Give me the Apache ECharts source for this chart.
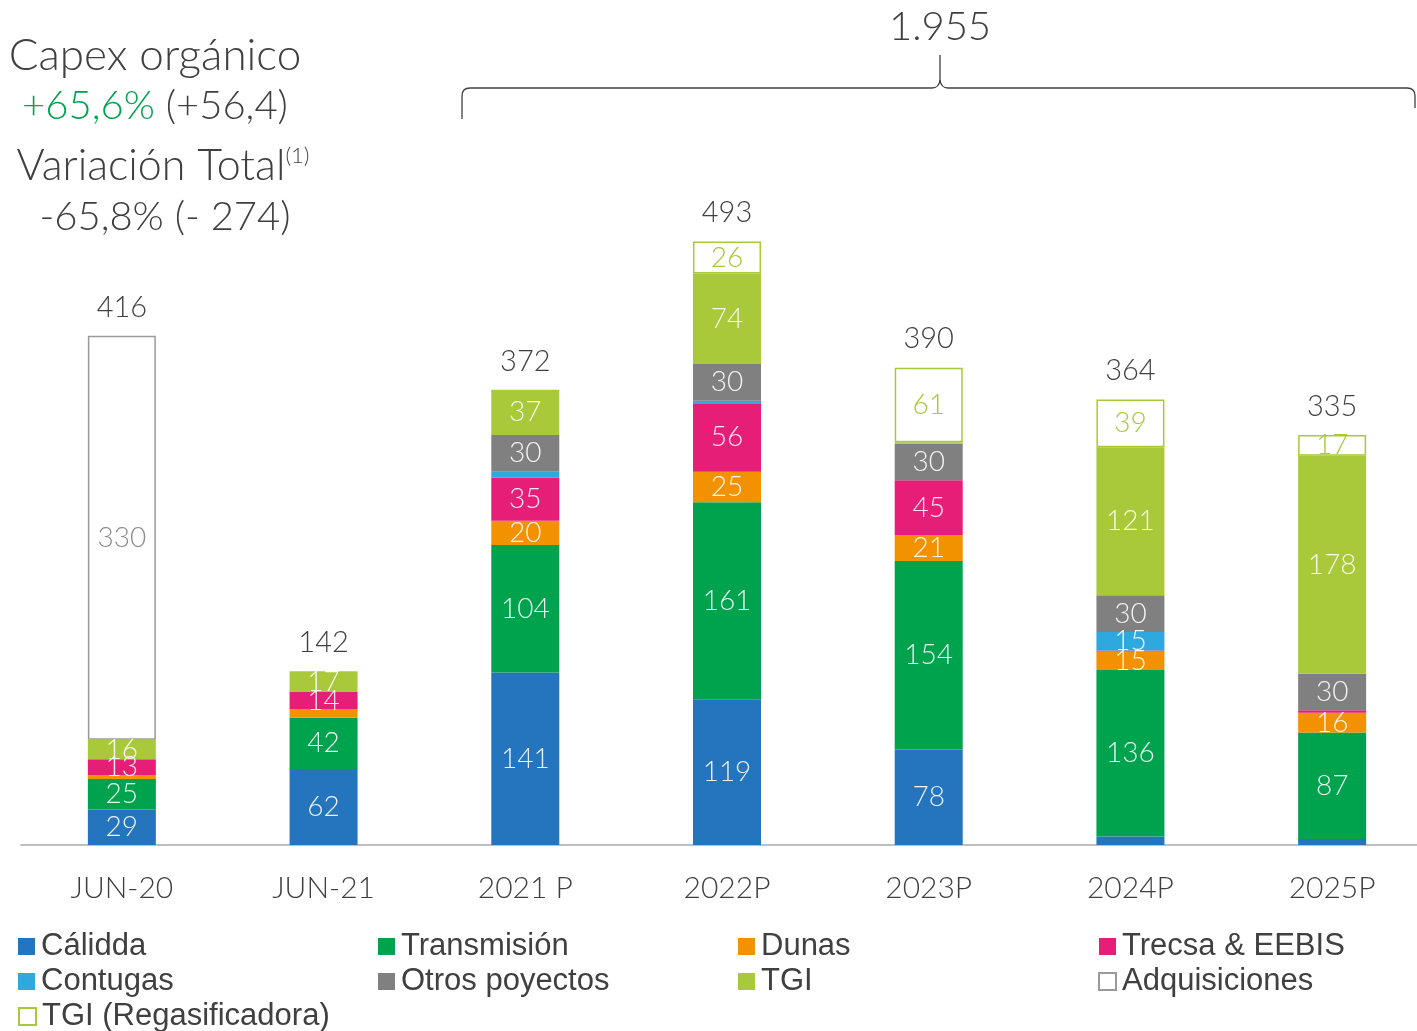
<!DOCTYPE html>
<html>
<head>
<meta charset="utf-8">
<script src="https://cdn.jsdelivr.net/npm/echarts@6/dist/echarts.min.js"></script>
<style>html,body{margin:0;padding:0;background:#fff;}#c{width:1417px;height:1031px;}</style>
</head>
<body>
<div id="c"></div>
<script>
const categories = ['JUN-20','JUN-21','2021 P','2022P','2023P','2024P','2025P'];
const calidda = [29,62,141,119,78,7,5];
const transmision = [25,42,104,161,154,136,87];
const dunas = [3,7,20,25,21,15,16];
const trecsa = [13,14,35,56,45,1,2];
const contugas = [0,0,5,2,0,15,0];
const otros = [0,0,30,30,30,30,30];
const tgi = [16,17,37,74,1,121,178];
const adquisiciones = [330,0,0,0,0,0,0];
const tgiRegas = [0,0,0,26,61,39,17];
const totals = [416,142,372,493,390,364,335];
const grandTotal = '1.955';

const FONT = 'Lato';
const seriesDefs = [
  {name:'Cálidda', data:calidda, color:'#2474be'},
  {name:'Transmisión', data:transmision, color:'#00a34d'},
  {name:'Dunas', data:dunas, color:'#f39200'},
  {name:'Trecsa & EEBIS', data:trecsa, color:'#e61e78'},
  {name:'Contugas', data:contugas, color:'#2ea9e0'},
  {name:'Otros poyectos', data:otros, color:'#808080'},
  {name:'TGI', data:tgi, color:'#a8c939'},
  {name:'Adquisiciones', data:adquisiciones, color:'#ffffff', border:'#9a9a9a', labelColor:'#8c8c8c'},
  {name:'TGI (Regasificadora)', data:tgiRegas, color:'#ffffff', border:'#a8c939', labelColor:'#a8c939'}
];

const series = seriesDefs.map(d => ({
  name: d.name,
  type: 'bar',
  stack: 'all',
  barWidth: 68,
  data: d.data.map(v => v === 0 ? '-' : v),
  itemStyle: d.border ? {color: d.color, borderColor: d.border, borderWidth: 1.5} : {color: d.color},
  label: {
    show: true,
    position: 'inside',
    fontFamily: FONT,
    fontWeight: 300,
    fontSize: 28,
    color: d.labelColor || 'rgba(255,255,255,0.9)',
    formatter: p => (typeof p.value === 'number' && p.value >= 10) ? String(p.value) : ''
  },
  emphasis: {disabled: true},
  animation: false
}));

series.push({
  name: 'total',
  type: 'bar',
  stack: 'all',
  barWidth: 68,
  data: totals.map(() => 0),
  itemStyle: {color: 'transparent'},
  label: {
    show: true,
    position: 'top',
    distance: 14,
    fontFamily: FONT,
    fontWeight: 300,
    fontSize: 29,
    color: '#404040',
    formatter: p => String(totals[p.dataIndex])
  },
  animation: false
});

const legendCommon = {
  orient: 'vertical',
  top: 931,
  itemWidth: 17,
  itemHeight: 17,
  itemGap: 4,
  icon: 'rect',
  selectedMode: false,
  padding: 0,
  textStyle: {fontFamily: 'Arial, Liberation Sans', fontSize: 31, color: '#404040', padding: [0,0,0,1]}
};

const LC = '#404040', LW = 1.3;
const braceEls = [
  {type:'line', shape:{x1:462, y1:119, x2:462, y2:96}, style:{stroke:LC, lineWidth:LW}},
  {type:'bezierCurve', shape:{x1:462, y1:96, cpx1:462, cpy1:88, x2:470, y2:88}, style:{stroke:LC, lineWidth:LW, fill:null}},
  {type:'line', shape:{x1:470, y1:88, x2:932, y2:88}, style:{stroke:LC, lineWidth:LW}},
  {type:'bezierCurve', shape:{x1:932, y1:88, cpx1:939, cpy1:88, x2:940, y2:80}, style:{stroke:LC, lineWidth:LW, fill:null}},
  {type:'line', shape:{x1:940, y1:80, x2:940, y2:55}, style:{stroke:LC, lineWidth:LW}},
  {type:'bezierCurve', shape:{x1:940, y1:80, cpx1:941, cpy1:88, x2:948, y2:88}, style:{stroke:LC, lineWidth:LW, fill:null}},
  {type:'line', shape:{x1:948, y1:88, x2:1407, y2:88}, style:{stroke:LC, lineWidth:LW}},
  {type:'bezierCurve', shape:{x1:1407, y1:88, cpx1:1415, cpy1:88, x2:1415, y2:96}, style:{stroke:LC, lineWidth:LW, fill:null}},
  {type:'line', shape:{x1:1415, y1:96, x2:1415, y2:108}, style:{stroke:LC, lineWidth:LW}}
];

const chart = echarts.init(document.getElementById('c'), null, {renderer: 'canvas'});
chart.setOption({
  animation: false,
  backgroundColor: '#ffffff',
  grid: {left: 21, right: -16, top: 110.6, bottom: 186, outerBoundsMode: 'none', containLabel: false},
  xAxis: {
    type: 'category',
    data: categories,
    axisLine: {show: true, lineStyle: {color: '#bfbfbf', width: 2}},
    axisTick: {show: false},
    axisLabel: {fontFamily: FONT, fontWeight: 300, fontSize: 30, color: '#404040', margin: 28}
  },
  yAxis: {type: 'value', min: 0, max: 600, show: false, splitLine: {show: false}},
  legend: [
    Object.assign({}, legendCommon, {left: 18, data: ['Cálidda','Contugas']}),
    Object.assign({}, legendCommon, {left: 18, top: 1001, data: ['TGI (Regasificadora)']}),
    Object.assign({}, legendCommon, {left: 378, data: ['Transmisión','Otros poyectos']}),
    Object.assign({}, legendCommon, {left: 738, data: ['Dunas','TGI']}),
    Object.assign({}, legendCommon, {left: 1098, data: ['Trecsa & EEBIS','Adquisiciones']})
  ],
  graphic: [
    {type:'text', x: 155, y: 56, style:{text:'Capex orgánico', font:'300 44px Lato', fill:'#404040', align:'center', verticalAlign:'middle'}},
    {type:'text', x: 155, y: 106, style:{text:'{g|+65,6%} (+56,4)', font:'300 40px Lato', fill:'#404040', align:'center', verticalAlign:'middle',
      rich:{g:{fill:'#00a34d', font:'300 40px Lato'}}}},
    {type:'text', x: 163, y: 166, style:{text:'Variación Total{s|(1)}', font:'300 43px Lato', fill:'#404040', align:'center', verticalAlign:'middle',
      rich:{s:{font:'300 22px Lato', fill:'#404040', verticalAlign:'top', padding:[0,0,18,0]}}}},
    {type:'text', x: 165, y: 217, style:{text:'-65,8% (- 274)', font:'300 40px Lato', fill:'#404040', align:'center', verticalAlign:'middle'}},
    {type:'text', x: 940, y: 27, style:{text: grandTotal, font:'300 40px Lato', fill:'#404040', align:'center', verticalAlign:'middle'}},
    {type:'group', children: braceEls}
  ],
  series: series
});
</script>
</body>
</html>
